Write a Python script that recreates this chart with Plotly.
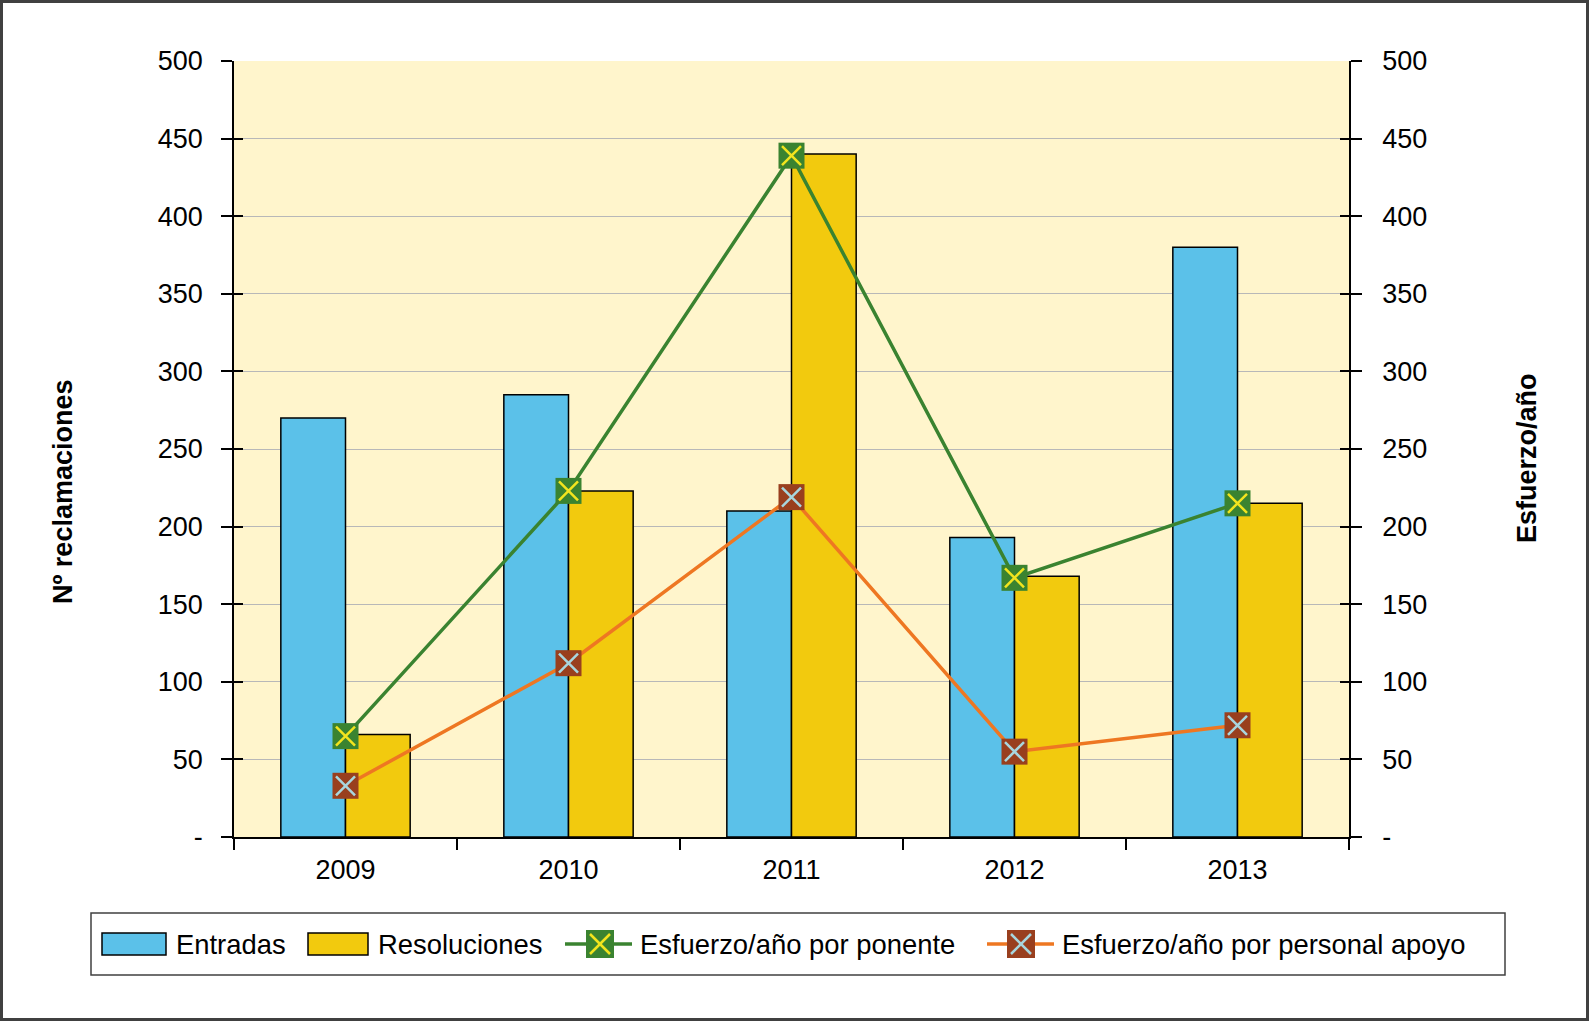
import plotly.graph_objects as go

years = ["2009", "2010", "2011", "2012", "2013"]
entradas = [270, 285, 210, 193, 380]
resoluciones = [66, 223, 440, 168, 215]
esf_ponente = [65, 223, 439, 167, 215]
esf_apoyo = [33, 112, 219, 55, 72]
ytick_vals = [0, 50, 100, 150, 200, 250, 300, 350, 400, 450, 500]
ytick_text = ["-", "50", "100", "150", "200", "250", "300", "350", "400", "450", "500"]

FW, FH = 1589, 1021
L, R, T, B = 234, 1349, 61, 837
PW, PH = R - L, B - T
FONT = "Liberation Sans, Arial, sans-serif"
FS = 27
FSL = 27.4

C_BLUE = "#5BC1E9"
C_YEL = "#F2CA0E"
C_GREEN = "#3A8330"
C_XYEL = "#F2E41E"
C_ORANGE = "#EE7722"
C_BROWN = "#993F1E"
C_XBLUE = "#A8D6DE"


def px(x):
    return (x - L) / PW


def py(y):
    return (B - y) / PH


fig = go.Figure()
fig.add_trace(go.Bar(x=years, y=entradas, name="Entradas", marker=dict(color=C_BLUE, line=dict(color="black", width=1.5))))
fig.add_trace(go.Bar(x=years, y=resoluciones, name="Resoluciones", marker=dict(color=C_YEL, line=dict(color="black", width=1.5))))

for vals, lc, mc, xc, nm in [(esf_ponente, C_GREEN, C_GREEN, C_XYEL, "Esfuerzo/año por ponente"),
                             (esf_apoyo, C_ORANGE, C_BROWN, C_XBLUE, "Esfuerzo/año por personal apoyo")]:
    fig.add_trace(go.Scatter(x=years, y=vals, name=nm, yaxis="y2", mode="lines+markers",
                             line=dict(color=lc, width=3.5),
                             marker=dict(symbol="square", size=26, color=mc, line=dict(width=0))))
    fig.add_trace(go.Scatter(x=years, y=vals, yaxis="y2", mode="markers", showlegend=False, hoverinfo="skip",
                             marker=dict(symbol="x-thin", size=19, color=xc, line=dict(color=xc, width=2.5))))

axis_common = dict(range=[0, 500], tickvals=ytick_vals, ticktext=ytick_text,
                   tickfont=dict(family=FONT, size=FS, color="black"),
                   showline=True, linecolor="black", linewidth=1.5,
                   ticks="outside", ticklen=11, tickcolor="black", tickwidth=1.5)

fig.update_layout(
    width=FW, height=FH,
    margin=dict(l=L, r=FW - R, t=T, b=FH - B),
    paper_bgcolor="white", plot_bgcolor="#FFF5CC",
    showlegend=False,
    barmode="group", bargap=0.42, bargroupgap=0,
    font=dict(family=FONT, size=FS, color="black"),
    xaxis=dict(type="category", tickson="boundaries", ticks="outside", ticklen=11, tickcolor="black", tickwidth=1.5,
               showline=True, linecolor="black", linewidth=1.5, showgrid=False,
               tickfont=dict(family=FONT, size=FS, color="black"), ticklabelstandoff=8),
    yaxis=dict(**axis_common, side="left", showgrid=True, gridcolor="#B8B8B8", gridwidth=1,
               zeroline=False, ticklabelstandoff=13),
    yaxis2=dict(**axis_common, side="right", overlaying="y", showgrid=False, zeroline=False,
                ticklabelstandoff=15),
    yaxis3=dict(range=[0, 500], tickvals=ytick_vals, overlaying="y", side="left", ticks="inside", ticklen=9,
                tickcolor="black", tickwidth=1.5, showticklabels=False, showgrid=False, zeroline=False,
                showline=False),
    yaxis4=dict(range=[0, 500], tickvals=ytick_vals, overlaying="y", side="right", ticks="inside", ticklen=9,
                tickcolor="black", tickwidth=1.5, showticklabels=False, showgrid=False, zeroline=False,
                showline=False),
)
# invisible helper traces so the inside-tick axes render
fig.add_trace(go.Scatter(x=[years[0]], y=[0], yaxis="y3", mode="markers", marker=dict(opacity=0), showlegend=False, hoverinfo="skip"))
fig.add_trace(go.Scatter(x=[years[0]], y=[0], yaxis="y4", mode="markers", marker=dict(opacity=0), showlegend=False, hoverinfo="skip"))

shapes = []
annotations = []

# outer border
shapes.append(dict(type="rect", xref="paper", yref="paper", x0=px(1.5), x1=px(FW - 1.5), y0=py(1.5), y1=py(FH - 1.5),
                   line=dict(color="#404040", width=3), fillcolor="rgba(0,0,0,0)", layer="above"))

# axis titles
annotations.append(dict(text="<b>Nº reclamaciones</b>", xref="paper", yref="paper", x=px(63), y=py(492),
                        textangle=-90, showarrow=False, font=dict(family=FONT, size=FS, color="black"),
                        xanchor="center", yanchor="middle"))
annotations.append(dict(text="<b>Esfuerzo/año</b>", xref="paper", yref="paper", x=px(1527), y=py(458),
                        textangle=-90, showarrow=False, font=dict(family=FONT, size=FS, color="black"),
                        xanchor="center", yanchor="middle"))

# manual legend
shapes.append(dict(type="rect", xref="paper", yref="paper", x0=px(91), x1=px(1505), y0=py(913), y1=py(975),
                   line=dict(color="#404040", width=1.5), fillcolor="white"))
ly = 944
for x0, x1, col, tx, label in [(102, 166, C_BLUE, 174, "Entradas"), (308, 368, C_YEL, 376, "Resoluciones")]:
    shapes.append(dict(type="rect", xref="paper", yref="paper", x0=px(x0), x1=px(x1), y0=py(ly - 11), y1=py(ly + 11),
                       line=dict(color="black", width=1.5), fillcolor=col))
    annotations.append(dict(text=label, xref="paper", yref="paper", x=px(tx), y=py(ly), xanchor="left", yanchor="middle",
                            showarrow=False, font=dict(family=FONT, size=FSL, color="black")))

for lx0, lx1, mcx, tx, lc, mc, xc, label in [
        (565, 632, 600, 638, C_GREEN, C_GREEN, C_XYEL, "Esfuerzo/año por ponente"),
        (987, 1054, 1021, 1060, C_ORANGE, C_BROWN, C_XBLUE, "Esfuerzo/año por personal apoyo")]:
    shapes.append(dict(type="line", xref="paper", yref="paper", x0=px(lx0), x1=px(lx1), y0=py(ly), y1=py(ly),
                       line=dict(color=lc, width=3.5)))
    shapes.append(dict(type="rect", xref="paper", yref="paper", x0=px(mcx - 14), x1=px(mcx + 14), y0=py(ly - 14), y1=py(ly + 14),
                       line=dict(width=0), fillcolor=mc))
    d = 10
    shapes.append(dict(type="line", xref="paper", yref="paper", x0=px(mcx - d), x1=px(mcx + d), y0=py(ly - d), y1=py(ly + d),
                       line=dict(color=xc, width=2.5)))
    shapes.append(dict(type="line", xref="paper", yref="paper", x0=px(mcx - d), x1=px(mcx + d), y0=py(ly + d), y1=py(ly - d),
                       line=dict(color=xc, width=2.5)))
    annotations.append(dict(text=label, xref="paper", yref="paper", x=px(tx), y=py(ly), xanchor="left", yanchor="middle",
                            showarrow=False, font=dict(family=FONT, size=FSL, color="black")))

fig.update_layout(shapes=shapes, annotations=annotations)
fig.write_html("out.html", config={"displayModeBar": False},
               post_script="document.body.style.margin='0';document.body.style.padding='0';")
